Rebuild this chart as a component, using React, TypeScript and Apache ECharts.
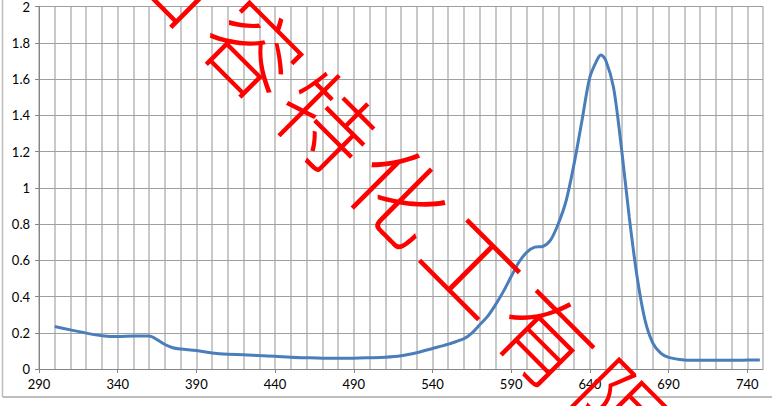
import React, { useEffect, useRef } from "react";
import * as echarts from "echarts";

// wavelength (nm) and absorbance
const wavelengths = [
  300, 310, 320, 330, 340, 350, 360, 365, 370, 375, 380, 390, 400, 410, 420, 430, 440, 450, 460, 470, 480,
  490, 500, 510, 520, 530, 540, 550, 560, 565, 570, 575, 580, 585, 590, 595, 600, 605, 610, 615, 620, 625,
  630, 635, 640, 645, 647, 650, 655, 660, 665, 670, 675, 680, 685, 690, 700, 710, 720, 730, 740, 748,
];
const absorbance = [
  0.234, 0.216, 0.198, 0.184, 0.179, 0.182, 0.182, 0.162, 0.135, 0.117, 0.11, 0.102, 0.088, 0.081, 0.079,
  0.074, 0.07, 0.065, 0.062, 0.06, 0.06, 0.06, 0.062, 0.065, 0.073, 0.09, 0.113, 0.137, 0.167, 0.198, 0.244,
  0.29, 0.354, 0.427, 0.51, 0.59, 0.645, 0.672, 0.676, 0.711, 0.803, 0.931, 1.133, 1.371, 1.61, 1.712, 1.733,
  1.705, 1.555, 1.224, 0.839, 0.509, 0.271, 0.143, 0.088, 0.064, 0.05, 0.048, 0.048, 0.048, 0.049, 0.05,
];
const xTickLabels = [290, 340, 390, 440, 490, 540, 590, 640, 690, 740];

// red watermark, one glyph per step along the diagonal
const watermarkChars = ["日", "容", "特", "化", "工", "有", "限"];

const App: React.FC = () => {
  const chartRef = useRef<HTMLDivElement>(null);

  useEffect(() => {
    if (!chartRef.current) return;
    const chart = echarts.init(chartRef.current, undefined, { renderer: "svg" });

    const labelFont = { fontFamily: "Lato", fontSize: 13, color: "#000" };

    chart.setOption({
      animation: false,
      backgroundColor: "#fff",
      grid: { left: 39, top: 6, right: 9, bottom: 37 },
      xAxis: [
        {
          type: "value",
          min: 290,
          max: 750,
          interval: 10,
          axisLine: { show: true, onZero: false, lineStyle: { color: "#868686", width: 1 } },
          axisTick: {
            show: true,
            length: 4,
            customValues: xTickLabels,
            lineStyle: { color: "#868686" },
          },
          axisLabel: { ...labelFont, margin: 8, customValues: xTickLabels },
          splitLine: { show: false },
          z: 2,
        },
        {
          // vertical gridlines every 10 nm
          type: "value",
          min: 290,
          max: 750,
          interval: 10,
          position: "bottom",
          axisLine: { show: false },
          axisTick: { show: false },
          axisLabel: { show: false },
          splitLine: { show: true, lineStyle: { color: "#c9c9c9", width: 2 } },
          z: 0,
        },
      ],
      yAxis: {
        type: "value",
        min: 0,
        max: 2,
        interval: 0.2,
        axisLine: { show: true, lineStyle: { color: "#868686", width: 1 } },
        axisTick: { show: true, length: 4, lineStyle: { color: "#868686" } },
        axisLabel: { ...labelFont, margin: 9 },
        splitLine: { show: true, lineStyle: { color: "#a0a0a0", width: 1 } },
        z: 1,
      },
      series: [
        {
          type: "line",
          xAxisIndex: 0,
          data: wavelengths.map((w, i) => [w, absorbance[i]]),
          smooth: 0.3,
          showSymbol: false,
          lineStyle: { color: "#4a7ebb", width: 3 },
          z: 3,
        },
      ],
      graphic: [
        // outer chart frame (left and bottom edges visible)
        { type: "line", shape: { x1: 2.5, y1: 0, x2: 2.5, y2: 397 }, style: { stroke: "#bdbdbd", lineWidth: 1.5 }, z: 1 },
        { type: "line", shape: { x1: 2.5, y1: 397, x2: 772, y2: 397 }, style: { stroke: "#bdbdbd", lineWidth: 2 }, z: 1 },
        ...watermarkChars.map((ch, i) => ({
          type: "text",
          x: 184 + i * 73,
          y: -25 + i * 72,
          rotation: -Math.PI / 4,
          z: 10,
          style: {
            text: ch,
            fill: "#ff0000",
            fontFamily: "Noto Sans CJK SC",
            fontSize: 94,
            fontWeight: 300,
            align: "center",
            verticalAlign: "middle",
          },
        })),
      ],
    });

    return () => {
      chart.dispose();
    };
  }, []);

  return (
    <div
      ref={chartRef}
      style={{ position: "absolute", left: 0, top: 0, width: "772px", height: "406px" }}
    ></div>
  );
};

export default App;
